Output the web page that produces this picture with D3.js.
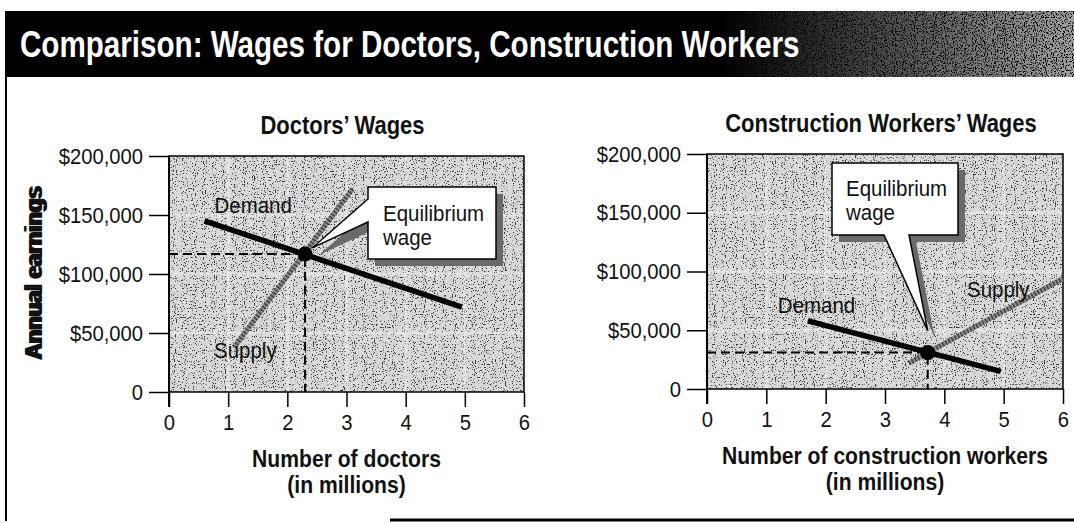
<!DOCTYPE html>
<html>
<head>
<meta charset="utf-8">
<script src="https://cdn.jsdelivr.net/npm/d3@7"></script>
<style>
body { margin: 0; background: #fff; }
text { font-family: "Liberation Sans", Arial, sans-serif; fill: #111; }
</style>
</head>
<body>
<div id="chart"></div>
<script>
var width = 1074, height = 523;

// values
var xTicks = [0, 1, 2, 3, 4, 5, 6];
var yTicks = [0, 50000, 100000, 150000, 200000];
var yTickLabels = ["0", "$50,000", "$100,000", "$150,000", "$200,000"];

var doctorsDemand = [[0.6, 145000], [4.95, 72000]];
var doctorsSupply = [[1.1, 38000], [3.1, 172000]];
var doctorsEq = [2.3, 117000];

var workersDemand = [[1.7, 58000], [4.95, 15000]];
var workersSupply = [[3.4, 22000], [6.0, 94000]];
var workersEq = [3.72, 31000];

var svg = d3.select("#chart").append("svg")
    .attr("width", width)
    .attr("height", height);

var defs = svg.append("defs");

// stipple texture like the printed screen (black specks)
function grain(id, freq, cut) {
  var f = defs.append("filter").attr("id", id)
      .attr("x", 0).attr("y", 0).attr("width", "100%").attr("height", "100%");
  f.append("feTurbulence").attr("type", "fractalNoise")
      .attr("baseFrequency", freq).attr("numOctaves", 1).attr("seed", 4);
  f.append("feColorMatrix").attr("type", "matrix")
      .attr("values", "0 0 0 0 0  0 0 0 0 0  0 0 0 0 0  -12 0 0 0 " + cut);
}
grain("grain", "0.9 0.7", 4.9);
grain("grainBar", "0.9 0.7", 5.6);

var barGrad = defs.append("linearGradient").attr("id", "barGrad");
barGrad.append("stop").attr("offset", "0%").attr("stop-color", "#000");
barGrad.append("stop").attr("offset", "100%").attr("stop-color", "#a0a0a0");

// condensed look: squeeze a normal face sideways
function label(g, x, y, s, size, sx, opts) {
  opts = opts || {};
  return g.append("text")
      .attr("transform", "translate(" + x + "," + y + ")" + (opts.rotate ? " rotate(-90)" : "") + " scale(" + sx + ",1)")
      .attr("font-size", size)
      .attr("font-weight", opts.bold ? "bold" : null)
      .attr("text-anchor", opts.anchor || "start")
      .text(s);
}

// outer frame and title bar
svg.append("rect").attr("x", 5).attr("y", 11).attr("width", width - 5).attr("height", 66).attr("fill", "#000");
svg.append("rect").attr("x", 720).attr("y", 11).attr("width", width - 720).attr("height", 66).attr("fill", "url(#barGrad)");
svg.append("rect").attr("x", 720).attr("y", 11).attr("width", width - 720).attr("height", 66)
    .attr("fill", "#fff").attr("filter", "url(#grainBar)");
svg.append("line").attr("x1", 6).attr("x2", 6).attr("y1", 11).attr("y2", 521)
    .attr("stroke", "#000").attr("stroke-width", 2);
svg.append("line").attr("x1", 390).attr("x2", width).attr("y1", 520).attr("y2", 520)
    .attr("stroke", "#000").attr("stroke-width", 3);

label(svg, 20, 57, "Comparison: Wages for Doctors, Construction Workers", 37, 0.8, {bold: true})
    .style("fill", "#fff");

var panels = [
  {
    title: "Doctors\u2019 Wages", xLabel: ["Number of doctors", "(in millions)"],
    left: 169, right: 524, top: 156, bottom: 392,
    demand: doctorsDemand, supply: doctorsSupply, eq: doctorsEq,
    demandLabel: [10, -8], supplyLabel: [-20, 11], supplyEnd: 0,
    box: {x: 368, y: 187, w: 128, h: 72, side: "left", a: 199, b: 222, tip: [7, -6]},
    lines: [[15, 34], [15, 58]]
  },
  {
    title: "Construction Workers\u2019 Wages", xLabel: ["Number of construction workers", "(in millions)"],
    left: 707, right: 1063, top: 154, bottom: 389,
    demand: workersDemand, supply: workersSupply, eq: workersEq,
    demandLabel: [-30, -8], supplyLabel: [-96, 18], supplyEnd: 1,
    box: {x: 832, y: 163, w: 126, h: 72, side: "bottom", a: 884, b: 909, tip: [0, -22]},
    lines: [[14, 33], [14, 57]]
  }
];

panels.forEach(function(p) {
  var x = d3.scaleLinear().domain([0, 6]).range([p.left, p.right]);
  var y = d3.scaleLinear().domain([0, 200000]).range([p.bottom, p.top]);
  var g = svg.append("g");
  var cx = (p.left + p.right) / 2;

  label(g, cx - 4, p.top - 22, p.title, 25, 0.88, {bold: true, anchor: "middle"});

  // shaded plot area
  g.append("rect").attr("x", p.left).attr("y", p.top)
      .attr("width", p.right - p.left).attr("height", p.bottom - p.top).attr("fill", "#d9d9d9");
  g.append("rect").attr("x", p.left).attr("y", p.top)
      .attr("width", p.right - p.left).attr("height", p.bottom - p.top)
      .attr("fill", "#fff").attr("filter", "url(#grain)").attr("opacity", 0.75);
  g.selectAll(".vgrid").data(xTicks.slice(1, -1)).enter().append("line")
      .attr("x1", d => x(d)).attr("x2", d => x(d)).attr("y1", p.top).attr("y2", p.bottom)
      .attr("stroke", "#f2f2f2").attr("stroke-width", 3).attr("opacity", 0.5);
  g.selectAll(".hgrid").data(yTicks.slice(1, -1)).enter().append("line")
      .attr("x1", p.left).attr("x2", p.right).attr("y1", d => y(d)).attr("y2", d => y(d))
      .attr("stroke", "#f2f2f2").attr("stroke-width", 3).attr("opacity", 0.5);
  g.append("rect").attr("x", p.left).attr("y", p.top)
      .attr("width", p.right - p.left).attr("height", p.bottom - p.top)
      .attr("fill", "none").attr("stroke", "#000").attr("stroke-width", 1.5);

  // axes
  var ya = g.append("g").attr("transform", "translate(" + p.left + ",0)")
      .call(d3.axisLeft(y).tickValues(yTicks).tickSize(20).tickPadding(6)
        .tickFormat((d, i) => yTickLabels[i]));
  var xa = g.append("g").attr("transform", "translate(0," + p.bottom + ")")
      .call(d3.axisBottom(x).tickValues(xTicks).tickSize(15).tickPadding(7)
        .tickFormat(d3.format("d")));
  [ya, xa].forEach(function(a) {
    a.select(".domain").remove();
    a.selectAll(".tick line").attr("stroke", "#000").attr("stroke-width", 1.5);
    a.selectAll(".tick text").attr("font-size", 22).style("fill", "#111")
        .attr("transform", "scale(0.92,1)");
  });
  ya.selectAll(".tick text").attr("x", -26 / 0.92);
  g.append("line").attr("x1", p.left).attr("x2", p.left).attr("y1", p.top).attr("y2", p.bottom + 15)
      .attr("stroke", "#000").attr("stroke-width", 2);

  label(g, 42, (p.top + p.bottom) / 2, "Annual earnings", 24, 0.92, {bold: true, anchor: "middle", rotate: true});
  p.xLabel.forEach(function(t, i) {
    label(g, cx, p.bottom + 75 + i * 26, t, 24, 0.88, {bold: true, anchor: "middle"});
  });

  // equilibrium guides
  var ex = x(p.eq[0]), ey = y(p.eq[1]);
  g.append("path").attr("d", d3.line()([[x(0), ey], [ex, ey], [ex, y(0)]]))
      .attr("fill", "none").attr("stroke", "#000").attr("stroke-width", 2)
      .attr("stroke-dasharray", "9 5");

  // supply: grey hatched line
  var line = d3.line().x(d => x(d[0])).y(d => y(d[1]));
  g.append("path").attr("d", line(p.supply)).attr("stroke", "#8c8c8c").attr("stroke-width", 5);
  g.append("path").attr("d", line(p.supply)).attr("stroke", "#1a1a1a").attr("stroke-width", 5)
      .attr("stroke-dasharray", "1.5 2").attr("opacity", 0.65);
  g.append("path").attr("d", line(p.demand)).attr("stroke", "#000").attr("stroke-width", 5.5);

  g.append("circle").attr("cx", ex).attr("cy", ey).attr("r", 7.5).attr("fill", "#000");

  var d0 = p.demand[0], s0 = p.supply[p.supplyEnd];
  label(g, x(d0[0]) + p.demandLabel[0], y(d0[1]) + p.demandLabel[1], "Demand", 22, 0.93);
  label(g, x(s0[0]) + p.supplyLabel[0], y(s0[1]) + p.supplyLabel[1], "Supply", 22, 0.93);

  // callout box with pointer
  var b = p.box, tx = ex + b.tip[0], ty = ey + b.tip[1], path;
  if (b.side === "left") {
    path = "M" + b.x + "," + b.y + "H" + (b.x + b.w) + "V" + (b.y + b.h) + "H" + b.x +
      "V" + b.b + "L" + tx + "," + ty + "L" + b.x + "," + b.a + "Z";
  } else {
    path = "M" + b.x + "," + b.y + "H" + (b.x + b.w) + "V" + (b.y + b.h) + "H" + b.b +
      "L" + tx + "," + ty + "L" + b.a + "," + (b.y + b.h) + "H" + b.x + "Z";
  }
  g.append("path").attr("d", path).attr("transform", "translate(7,7)").attr("fill", "#6a6a6a");
  g.append("path").attr("d", path).attr("fill", "#fff").attr("stroke", "#000").attr("stroke-width", 1.5);
  ["Equilibrium", "wage"].forEach(function(t, i) {
    label(g, b.x + p.lines[i][0], b.y + p.lines[i][1], t, 22, 0.93);
  });
});
</script>
</body>
</html>
